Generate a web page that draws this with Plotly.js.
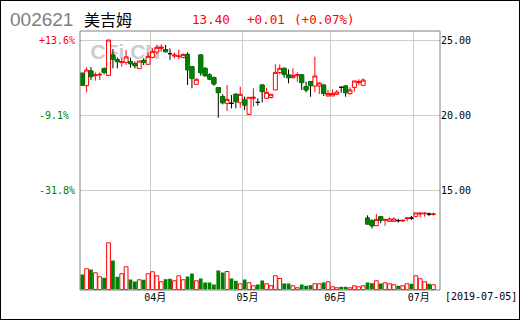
<!DOCTYPE html>
<html><head><meta charset="utf-8">
<script src="https://cdn.plot.ly/plotly-3.0.1.min.js"></script>
<style>
html,body{margin:0;padding:0;background:#fff;}
#wrap{position:relative;width:520px;height:320px;overflow:hidden;}
#chart{width:520px;height:320px;}
#frame{position:absolute;left:0;top:0;width:520px;height:320px;box-sizing:border-box;border:1px solid #000;pointer-events:none;}
</style></head><body>
<div id="wrap"><div id="chart"></div><div id="frame"></div></div>
<script>
const stockCode = '002621';
const stockName = '美吉姆';
const dates = [
 '2019-03-08','2019-03-11','2019-03-12','2019-03-13','2019-03-14','2019-03-15','2019-03-18','2019-03-19','2019-03-20','2019-03-21','2019-03-22','2019-03-25','2019-03-26','2019-03-27','2019-03-28','2019-03-29',
 '2019-04-01','2019-04-02','2019-04-03','2019-04-04','2019-04-08','2019-04-09','2019-04-10','2019-04-11','2019-04-12','2019-04-15','2019-04-16','2019-04-17','2019-04-18','2019-04-19','2019-04-22','2019-04-23','2019-04-24','2019-04-25','2019-04-26','2019-04-29','2019-04-30',
 '2019-05-06','2019-05-07','2019-05-08','2019-05-09','2019-05-10','2019-05-13','2019-05-14','2019-05-15','2019-05-16','2019-05-17','2019-05-20','2019-05-21','2019-05-22','2019-05-23','2019-05-24','2019-05-27','2019-05-28','2019-05-29','2019-05-30','2019-05-31',
 '2019-06-03','2019-06-04','2019-06-05','2019-06-06','2019-06-10','2019-06-11','2019-06-12','2019-06-13','2019-06-14','2019-06-17','2019-06-18','2019-06-19','2019-06-20','2019-06-21','2019-06-24','2019-06-25','2019-06-26','2019-06-27','2019-06-28',
 '2019-07-01','2019-07-02','2019-07-03','2019-07-04','2019-07-05'
];
const open = [
 22.78,21.96,22.93,22.62,22.67,23.09,22.64,24.00,23.69,23.49,23.51,23.56,23.42,23.09,23.64,23.38,
 23.84,24.20,24.44,24.36,24.09,23.93,23.89,23.84,24.04,23.22,22.04,24.00,23.11,22.67,22.49,21.82,21.22,20.78,20.78,21.38,20.82,
 21.00,20.04,21.11,20.84,22.00,21.11,21.16,21.67,22.84,23.11,22.67,22.49,22.62,22.67,21.89,22.22,21.93,21.93,22.00,21.27,
 21.27,21.38,21.84,21.93,21.42,21.84,22.16,21.98,13.13,12.96,12.62,13.22,12.98,12.91,12.91,12.96,12.93,13.09,13.13,
 13.24,13.40,13.42,13.39,13.37
];
const high = [
 22.82,23.18,23.20,22.84,22.84,23.18,25.00,24.40,23.84,23.78,24.33,23.82,23.56,23.60,23.78,24.18,
 24.44,24.67,24.71,24.67,24.44,24.18,24.36,24.11,24.18,23.22,22.45,24.04,23.18,22.78,22.56,21.82,21.38,22.00,21.33,21.44,21.89,
 21.22,21.18,21.78,21.11,22.00,21.82,21.38,23.38,23.38,23.16,23.04,23.11,22.84,22.71,22.22,22.22,23.89,22.20,22.00,21.67,
 21.71,21.67,21.93,21.98,21.84,22.27,22.38,22.44,13.31,13.04,13.40,13.27,13.09,13.18,13.18,13.09,13.02,13.20,13.27,
 13.47,13.52,13.52,13.50,13.50
];
const low = [
 21.93,21.51,22.33,22.29,22.33,22.71,22.58,23.11,23.11,23.22,23.33,23.16,23.11,23.09,23.33,23.33,
 23.78,24.04,24.22,24.18,23.67,23.78,23.73,23.78,22.00,21.78,22.04,22.62,22.56,22.33,21.96,19.82,20.71,20.27,20.44,20.44,20.49,
 20.33,20.04,20.56,20.62,20.84,21.11,21.11,21.67,22.71,22.49,22.11,22.44,22.22,21.67,21.51,21.22,21.51,21.40,21.27,21.22,
 21.27,21.38,21.49,21.22,21.36,21.56,22.00,21.98,12.73,12.44,12.62,12.78,12.62,12.91,12.87,12.82,12.89,12.91,13.00,
 13.18,13.18,13.22,13.27,13.29
];
const close = [
 22.00,23.00,22.56,22.67,22.71,22.84,25.00,23.73,23.56,23.56,23.87,23.42,23.29,23.60,23.51,23.91,
 24.22,24.51,24.53,24.22,24.09,24.00,23.93,24.04,23.02,22.44,22.38,22.82,22.62,22.40,22.07,21.49,20.82,21.04,20.78,20.89,21.38,
 20.67,21.18,21.18,20.84,21.56,21.51,21.38,22.84,23.11,22.71,22.49,22.64,22.69,22.16,21.67,21.96,22.60,22.13,21.44,21.44,
 21.44,21.53,21.84,21.49,21.67,22.27,22.22,22.33,12.73,12.62,13.04,13.00,13.02,13.07,13.07,12.96,12.98,13.13,13.13,
 13.47,13.45,13.45,13.39,13.40
];
// volume, 万手
const volume = [
 15.0,20.7,20.0,16.7,12.7,11.7,46.7,29.0,12.7,15.7,22.7,10.0,8.0,9.7,9.7,15.7,
 17.7,13.7,7.7,10.3,10.7,8.7,13.7,9.7,13.0,16.0,8.7,11.0,7.0,7.0,5.0,19.0,17.0,18.0,11.0,8.7,5.7,
 10.0,6.7,3.7,5.0,9.0,5.7,3.7,13.7,11.0,6.0,6.0,3.7,1.7,5.0,3.7,4.3,5.7,5.7,7.0,7.7,
 2.7,1.7,2.7,2.7,1.7,3.7,2.7,3.7,7.0,6.3,8.7,6.0,6.7,5.7,4.7,3.7,3.7,5.7,5.7,
 13.7,10.7,7.7,5.7,4.7
];
const priceTicks = [15, 20, 25];

const RED = '#ff0000', GREEN = '#008000', BLACK = '#000000', GRID = '#c8cec8';
const MONO = '"DejaVu Sans Mono", "Noto Sans CJK SC", monospace';

const idx = dates.map((d, i) => i);
const upI = idx.filter(i => close[i] > open[i]);
const downI = idx.filter(i => close[i] < open[i]);
const flatI = idx.filter(i => close[i] === open[i]);
const nonUpI = idx.filter(i => close[i] <= open[i]);
const pick = (arr, ids) => ids.map(i => arr[i]);

function candle(ids, o, h, l, c, lineColor, fill) {
  const st = {line: {color: lineColor, width: 1}, fillcolor: fill};
  return {type: 'candlestick', x: ids, open: pick(o, ids), high: pick(h, ids), low: pick(l, ids), close: pick(c, ids),
    increasing: st, decreasing: st, whiskerwidth: 0, xaxis: 'x', yaxis: 'y', hoverinfo: 'skip', showlegend: false};
}

const traces = [
  candle(upI, open, high, low, close, RED, '#ffffff'),
  candle(downI, open, high, low, close, BLACK, GREEN),
  candle(downI, open, open, close, close, GREEN, GREEN),
  candle(flatI, open, high, low, close, BLACK, BLACK),
  {type: 'bar', x: upI, y: pick(volume, upI), xaxis: 'x', yaxis: 'y2', width: 0.86,
   marker: {color: '#ffffff', line: {color: RED, width: 1}}, hoverinfo: 'skip'},
  {type: 'bar', x: nonUpI, y: pick(volume, nonUpI), xaxis: 'x', yaxis: 'y2', width: 0.86,
   marker: {color: GREEN, line: {width: 0}}, hoverinfo: 'skip'}
];

// month ticks from dates
const monthVals = [], monthText = [];
for (let i = 1; i < dates.length; i++) {
  if (dates[i].slice(5, 7) !== dates[i - 1].slice(5, 7)) {
    monthVals.push(i - 0.5);
    monthText.push(dates[i].slice(5, 7) + '月');
  }
}

const n = close.length;
const last = close[n - 1], prev = close[n - 2];
const chg = last - prev, chgPct = chg / prev * 100;
const sgn = v => (v >= 0 ? '+' : '-');
const basePrice = close[0];

const hdrY = (290 - 19) / 259;
const px = x => (x - 80) / 360;
const annotations = [
  {text: stockCode, x: px(8), y: hdrY, font: {family: '"Liberation Sans", Arial, sans-serif', size: 19, color: '#808080'}},
  {text: stockName, x: px(82), y: hdrY, font: {family: '"Noto Sans CJK SC", sans-serif', size: 16, color: '#000'}},
  {text: last.toFixed(2), x: px(190), y: hdrY, font: {family: MONO, size: 12.6, color: RED}},
  {text: sgn(chg) + Math.abs(chg).toFixed(2), x: px(245), y: hdrY, font: {family: MONO, size: 12.6, color: RED}},
  {text: '(' + sgn(chg) + Math.abs(chgPct).toFixed(2) + '%)', x: px(292), y: hdrY, font: {family: MONO, size: 12.6, color: RED}},
  {text: '[' + dates[n - 1] + ']', x: px(443), y: (290 - 296) / 259, font: {family: MONO, size: 10, color: '#000'}}
].map(a => Object.assign({xref: 'paper', yref: 'paper', xanchor: 'left', yanchor: 'middle', showarrow: false}, a));

priceTicks.forEach(v => {
  const pct = (v / basePrice - 1) * 100;
  annotations.push({xref: 'paper', yref: 'y', x: px(37), y: v, xanchor: 'left', yanchor: 'middle', showarrow: false,
    text: sgn(pct) + Math.abs(pct).toFixed(1) + '%', font: {family: MONO, size: 10, color: pct >= 0 ? RED : GREEN}});
});

const layout = {
  width: 520, height: 320, margin: {l: 80, r: 80, t: 31, b: 30, pad: 0},
  paper_bgcolor: '#ffffff', plot_bgcolor: '#ffffff', showlegend: false,
  boxgap: 0.1, boxgroupgap: 0, barmode: 'overlay', dragmode: false,
  xaxis: {domain: [0, 1], range: [-0.5, 81.5], anchor: 'y2', tickmode: 'array', tickvals: monthVals, ticktext: monthText,
    showgrid: true, gridcolor: GRID, gridwidth: 1, ticks: '', zeroline: false, showline: false,
    rangeslider: {visible: false}, tickfont: {family: MONO, size: 10, color: '#000'}, ticklabelshift: 5, fixedrange: true},
  yaxis: {domain: [0.195, 1], range: [11.7, 25.6], side: 'right', anchor: 'x', tickmode: 'array', tickvals: priceTicks,
    ticktext: priceTicks.map(v => v.toFixed(2)), showgrid: true, gridcolor: GRID, gridwidth: 1, zeroline: false,
    showline: false, ticks: '', tickfont: {family: MONO, size: 10, color: '#000'}, fixedrange: true},
  yaxis2: {domain: [0, 0.195], range: [-0.5, 50], anchor: 'x', showgrid: false, zeroline: false, showticklabels: false,
    ticks: '', fixedrange: true},
  shapes: [
    {type: 'rect', xref: 'paper', yref: 'paper', x0: px(88), x1: px(163), y0: (290 - 58) / 259, y1: (290 - 41) / 259,
     line: {width: 0}, fillcolor: 'rgba(0,0,0,0)', layer: 'below',
     label: {text: '<b>CFi.CN</b>', textposition: 'middle center',
       font: {family: '"Liberation Sans", Arial, sans-serif', size: 21, color: '#cccccc'}}},
    {type: 'rect', xref: 'paper', yref: 'paper', x0: 0, x1: 1, y0: 0, y1: 1, line: {color: '#808080', width: 1},
     fillcolor: 'rgba(0,0,0,0)', layer: 'above'}
  ],
  annotations: annotations
};

Plotly.newPlot('chart', traces, layout, {displayModeBar: false, staticPlot: false});
</script>
</body></html>
